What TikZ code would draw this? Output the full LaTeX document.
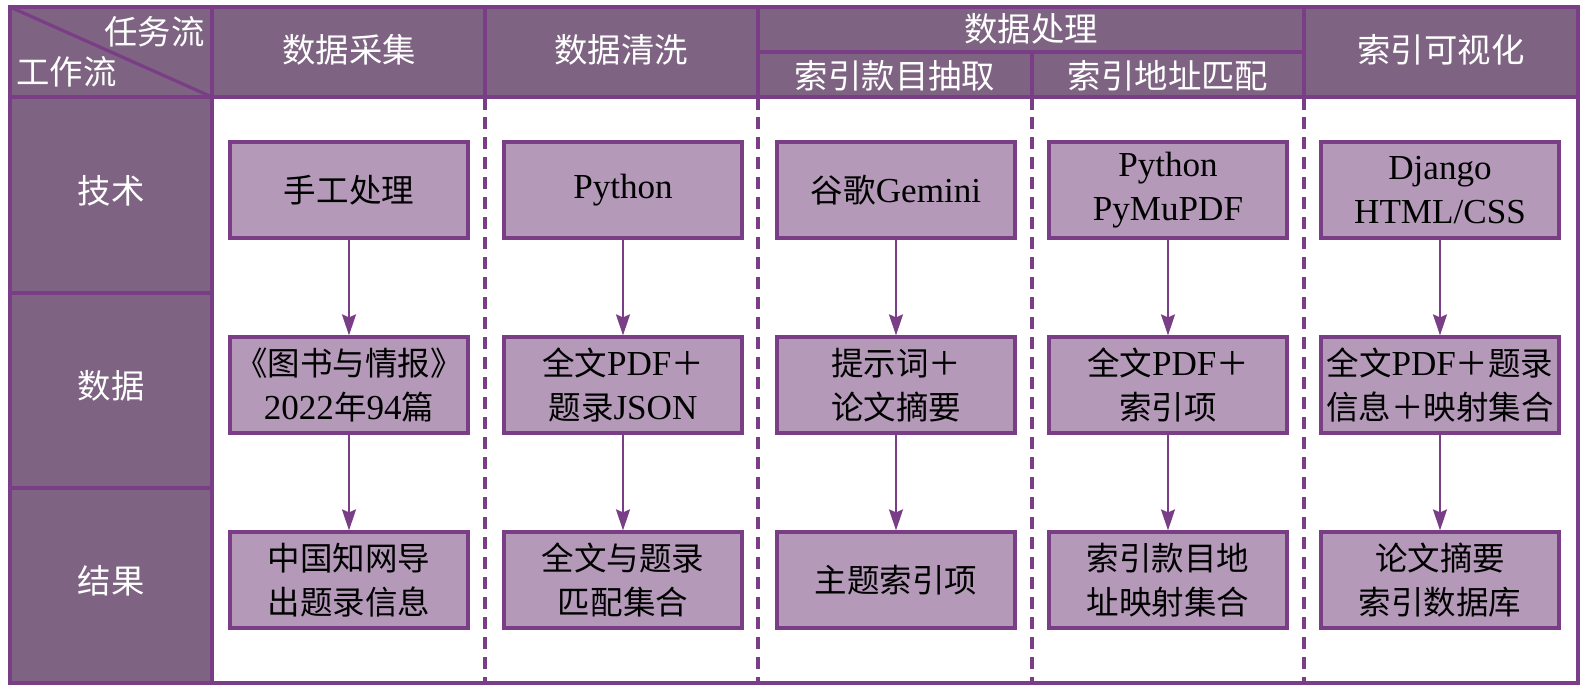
\documentclass[tikz,border=0pt]{standalone}
\usepackage{fontspec}
\setmainfont{Noto Sans CJK SC}
\newfontfamily\latinserif[Scale=1.08]{Liberation Serif}
\usepackage{tikz}
\usetikzlibrary{arrows.meta,positioning}
\definecolor{flowhead}{RGB}{126,100,130}
\definecolor{flowline}{RGB}{122,62,134}
\definecolor{flowbox}{RGB}{180,153,185}
\newcommand{\latn}[1]{{\latinserif #1}}
\tikzset{
  fgrid/.style ={flowline, line width=0.065cm},
  fdash/.style ={flowline, line width=0.065cm, dash pattern=on 0.25cm off 0.15cm},
  fbox/.style  ={rectangle, draw=flowline, fill=flowbox, line width=0.065cm,
                 minimum width=4.76cm, minimum height=1.92cm, inner sep=0pt,
                 align=center, font=\fontsize{18.5}{25}\selectfont},
  fhtext/.style={text=white, inner sep=0pt, font=\fontsize{19}{24}\selectfont},
  farrow/.style={-{Stealth[length=0.42cm, width=0.28cm, inset=0.06cm]},
                 flowline, line width=0.04cm},
}

\begin{document}
\begin{tikzpicture}[x=0.02cm, y=-0.02cm]
\useasboundingbox (0,0) rectangle (1590,694);
% header band and row labels
\fill[flowhead] (10,7) rectangle (1578,97);
\fill[flowhead] (10,97) rectangle (212,683);
\draw[fgrid] (10,7) -- (212,97);
\foreach \y in {97,293,488}
  \draw[fgrid] (10,\y) -- (212,\y);
\draw[fgrid] (212,97) -- (1578,97);
\draw[fgrid] (758,52) -- (1304,52);
\foreach \x in {212,485,758,1304}
  \draw[fgrid] (\x,7) -- (\x,97);
\draw[fgrid] (1032,52) -- (1032,97);
\foreach \x in {485,758,1032,1304}
  \draw[fdash] (\x,97) -- (\x,683);
\draw[fgrid] (212,97) -- (212,683);
\draw[fgrid] (10,7) rectangle (1578,683);
% header texts
\node[fhtext, anchor=east] (task) at (205,32) {任务流};
\node[fhtext, anchor=west] (work) at (16,72) {工作流};
\node[fhtext] (h1) at (349,50) {数据采集};
\node[fhtext] (h2) at (621,50) {数据清洗};
\node[fhtext] (h3) at (1031,29) {数据处理};
\node[fhtext] (h3a) at (895,76) {索引款目抽取};
\node[fhtext] (h3b) at (1168,76) {索引地址匹配};
\node[fhtext] (h5) at (1441,50) {索引可视化};
\node[fhtext] (ltech) at (111,191) {技术};
\node[fhtext] (ldata) at (111,386) {数据};
\node[fhtext] (lres) at (111,581) {结果};
% technique row
\node[fbox] (t1) at (349,190) {手工处理};
\node[fbox] (t2) at (623,190) {\latn{Python}};
\node[fbox] (t3) at (896,190) {谷歌\latn{Gemini}};
\node[fbox] (t4) at (1168,190) {\latn{Python}\\\latn{PyMuPDF}};
\node[fbox] (t5) at (1440,190) {\latn{Django}\\\latn{HTML/CSS}};
% data row
\node[fbox] (d1) at (349,385) {《图书与情报》\\\latn{2022}年\latn{94}篇};
\node[fbox] (d2) at (623,385) {全文\latn{PDF}＋\\题录\latn{JSON}};
\node[fbox] (d3) at (896,385) {提示词＋\\论文摘要};
\node[fbox] (d4) at (1168,385) {全文\latn{PDF}＋\\索引项};
\node[fbox] (d5) at (1440,385) {全文\latn{PDF}＋题录\\信息＋映射集合};
% result row
\node[fbox] (r1) at (349,580) {中国知网导\\出题录信息};
\node[fbox] (r2) at (623,580) {全文与题录\\匹配集合};
\node[fbox] (r3) at (896,580) {主题索引项};
\node[fbox] (r4) at (1168,580) {索引款目地\\址映射集合};
\node[fbox] (r5) at (1440,580) {论文摘要\\索引数据库};
\foreach \i in {1,...,5}{
  \draw[farrow] (t\i) -- (d\i);
  \draw[farrow] (d\i) -- (r\i);
}
\end{tikzpicture}
\end{document}
